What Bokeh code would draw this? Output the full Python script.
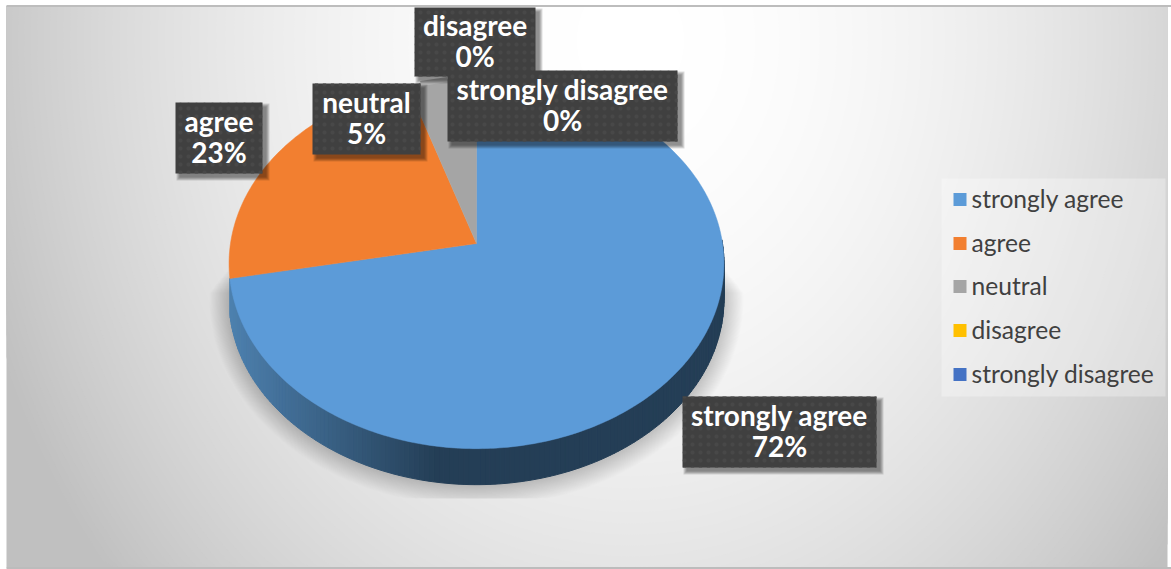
import numpy as np
from bokeh.core.properties import value
from bokeh.embed import file_html
from bokeh.models import Range1d
from bokeh.plotting import figure
from bokeh.resources import INLINE

# Survey responses
categories = ["strongly agree", "agree", "neutral", "disagree", "strongly disagree"]
percent = [72, 23, 5, 0, 0]
colors = ["#5c9bd8", "#f27f30", "#a5a5a5", "#ffc000", "#4472c4"]

W, H = 1171, 569
LABEL_FONT = value("Lato")

# Pie geometry in page pixels: a tilted disc seen in perspective
CX, CY, RX, RY, TILT, DEPTH = 476, 243, 246, 183, -0.108, 36


def disc(theta):
    """Project clockwise-from-top angles (radians) onto the tilted disc."""
    u, v = np.sin(theta), -np.cos(theta)
    w = 1 + TILT * v
    return CX + RX * u / w, CY + RY * v / w


p = figure(width=W, height=H, x_range=Range1d(0, W), y_range=Range1d(H, 0),
           output_backend="svg", toolbar_location=None, min_border=0)
p.axis.visible = False
p.grid.visible = False
p.outline_line_color = None
p.background_fill_color = "white"
p.border_fill_color = "white"

# Backdrop: radial gradient painted as nested ellipses, one per grey level, kept inside the panel
left, top, right, bottom = 6, 6, 1167, 567
GLOW_X, GLOW_Y, GLOW_SQUASH = 630, 40, 0.82
p.quad(left=[left], right=[right], top=[top], bottom=[bottom], fill_color="#c0c0c0", line_color=None)
ring = np.linspace(0, 2 * np.pi, 241)
ring_x, ring_y, ring_c = [], [], []
for level in range(193, 256):
    radius = 634 * ((255.5 - level) / 55) ** (1 / 1.9)
    ring_x.append(np.clip(GLOW_X + radius * np.cos(ring), left, right))
    ring_y.append(np.clip(GLOW_Y + radius / GLOW_SQUASH * np.sin(ring), top, bottom))
    ring_c.append(f"#{level:02x}{level:02x}{level:02x}")
p.patches(ring_x, ring_y, fill_color=ring_c, line_color=None)
p.segment(x0=[left], y0=[5.5], x1=[W], y1=[5.5], line_color="#bdbdbd", line_width=2)
p.segment(x0=[left], y0=[567.5], x1=[W], y1=[567.5], line_color="#bcbcbc", line_width=2)

# Soft cast shadow under the disc, fading out towards its upper end
full = np.linspace(0, 2 * np.pi, 181)
ox, oy = disc(full)
oy = oy + DEPTH
layers = 26
shadow_x, shadow_y = [], []
for t in np.linspace(1, 0, layers):
    sx = CX + (ox - CX) * (1 + 0.08 * t)
    sy = 302 + (oy - 302) * (1 + 0.12 * t)
    shadow_x.append(sx)
    shadow_y.append(np.clip(sy, 262 + 30 * t, 498))
p.patches(shadow_x, shadow_y, fill_color="black", fill_alpha=0.24 / layers, line_color=None)

# Slice boundaries follow directly from the percentages
edges = np.cumsum([0] + percent) / sum(percent) * 2 * np.pi

# Rim of the disc, shaded from left to right
span = np.linspace(np.pi / 2 - 0.02, edges[1], 161)
rx_, ry_ = disc(span)
rim_x, rim_y, rim_c = [], [], []
for i in range(len(span) - 1):
    rim_x.append([rx_[i], rx_[i + 1], rx_[i + 1], rx_[i]])
    rim_y.append([ry_[i], ry_[i + 1], ry_[i + 1] + DEPTH, ry_[i] + DEPTH])
    f = np.clip((0.5 * (rx_[i] + rx_[i + 1]) - 232) / 205, 0, 1)
    c0, c1 = np.array([0x4d, 0x80, 0xae]), np.array([0x24, 0x3e, 0x56])
    r, g, b = (c0 + (c1 - c0) * f).astype(int)
    rim_c.append(f"#{r:02x}{g:02x}{b:02x}")
p.patches(rim_x, rim_y, fill_color=rim_c, line_color=rim_c, line_width=1)

# Top face
for i, c in enumerate(colors):
    if percent[i] == 0:
        continue
    th = np.linspace(edges[i], edges[i + 1], max(3, int(percent[i] * 4)))
    x, y = disc(th)
    p.patch(np.r_[CX, x], np.r_[CY, y], fill_color=c, line_color=c, line_width=0.5)

# Leader line from the "disagree" callout down to the top of the pie
p.segment(x0=[420], y0=[83], x1=[447], y1=[79], line_color="#b4b4b4", line_width=5)

# Legend panel
p.quad(left=[941], right=[1165], top=[178], bottom=[396], fill_color="white", fill_alpha=0.3, line_color=None)
legend_rows = [199, 243, 286, 330, 374]
p.rect(x=[959.5] * 5, y=legend_rows, width=13, height=13, fill_color=colors, line_color=None)
p.text(x=[971] * 5, y=[r - 1 for r in legend_rows], text=categories, text_font=LABEL_FONT,
       text_font_size="24.6px", text_color="#404040", text_baseline="middle", text_align="left")

# Callouts: left, right, top, bottom of each box, drawn back to front
boxes = {
    "strongly agree": (682, 876, 396, 467),
    "agree": (175, 262, 102, 173),
    "neutral": (312, 420, 83, 154),
    "disagree": (414, 535, 7, 76),
    "strongly disagree": (447, 677, 70, 141),
}
for name, pct in zip(categories, percent):
    l, r, t, b = boxes[name]
    for grow in (3, 2, 1, 0):
        p.quad(left=[l + 4 - grow], right=[r + 4 + grow], top=[t + 4 - grow], bottom=[b + 4 + grow],
               fill_color="black", fill_alpha=0.13, line_color=None)
    p.quad(left=[l], right=[r], top=[t], bottom=[b], fill_color="#404040", line_color=None,
           hatch_pattern="dot", hatch_color="#484848", hatch_scale=8, hatch_weight=1)
    mid_x, mid_y = (l + r) / 2, (t + b) / 2 - 1.5
    p.text(x=[mid_x, mid_x], y=[mid_y - 15.5, mid_y + 15.5], text=[name, f"{pct}%"], text_font=LABEL_FONT,
           text_font_style="bold", text_font_size="28px", text_color="white",
           text_align="center", text_baseline="middle")

open("out.html", "w").write(file_html(p, INLINE))
